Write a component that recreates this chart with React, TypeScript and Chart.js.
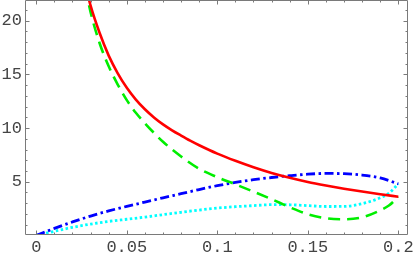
import React, { useEffect, useRef } from "react";
import { Chart, registerables } from "chart.js";

Chart.register(...registerables);

// ---- data ----
const redX = [0.028, 0.03, 0.035, 0.04, 0.045, 0.05, 0.055, 0.06, 0.065, 0.07, 0.075, 0.08, 0.085, 0.09, 0.1, 0.11, 0.12, 0.13, 0.14, 0.15, 0.16, 0.17, 0.18, 0.19, 0.2];
const redY = [22.7, 21.4, 18.85, 16.75, 15.1, 13.75, 12.65, 11.75, 10.99, 10.34, 9.79, 9.3, 8.83, 8.4, 7.62, 6.95, 6.35, 5.82, 5.37, 4.98, 4.65, 4.35, 4.08, 3.83, 3.6];

const greenX = [0.027, 0.03, 0.035, 0.04, 0.045, 0.05, 0.055, 0.06, 0.065, 0.07, 0.08, 0.09, 0.1, 0.11, 0.12, 0.13, 0.14, 0.15, 0.16, 0.17, 0.18, 0.19, 0.195, 0.2];
const greenY = [23.2, 20.8, 17.9, 15.75, 14.05, 12.6, 11.42, 10.45, 9.55, 8.72, 7.35, 6.2, 5.42, 4.75, 4.07, 3.37, 2.62, 1.97, 1.6, 1.5, 1.68, 2.33, 2.8, 3.6];

const blueX = [0, 0.01, 0.02, 0.03, 0.04, 0.05, 0.06, 0.07, 0.08, 0.09, 0.1, 0.11, 0.12, 0.13, 0.14, 0.15, 0.16, 0.17, 0.18, 0.19, 0.2];
const blueY = [0, 0.65, 1.25, 1.8, 2.28, 2.7, 3.1, 3.5, 3.88, 4.27, 4.63, 4.93, 5.19, 5.39, 5.56, 5.7, 5.77, 5.75, 5.62, 5.35, 4.8];

const cyanX = [0, 0.01, 0.02, 0.03, 0.04, 0.05, 0.06, 0.07, 0.08, 0.09, 0.1, 0.11, 0.12, 0.13, 0.14, 0.15, 0.16, 0.17, 0.18, 0.19, 0.195, 0.2];
const cyanY = [0, 0.38, 0.75, 1.05, 1.3, 1.5, 1.7, 1.93, 2.15, 2.36, 2.54, 2.67, 2.77, 2.86, 2.85, 2.77, 2.69, 2.7, 2.95, 3.5, 3.95, 4.8];

const xTickValues = [0, 0.05, 0.1, 0.15, 0.2];
const xTickLabels = ["0", "0.05", "0.1", "0.15", "0.2"];
const yTickValues = [5, 10, 15, 20];
const yTickLabels = ["5", "10", "15", "20"];
const xMinorStep = 0.01;
const yMinorStep = 1;

const toPoints = (xs: number[], ys: number[]) => xs.map((x, i) => ({ x, y: ys[i] }));

const framePlugin = {
  id: "frame",
  afterDatasetsDraw(chart: any) {
    const { ctx, chartArea, scales } = chart;
    const xs = scales.x;
    const ys = scales.y;
    const L = Math.round(chartArea.left) + 0.5;
    const R = Math.round(chartArea.right) - 0.5;
    const T = Math.round(chartArea.top) + 0.5;
    const B = Math.round(chartArea.bottom) + 0.5;
    ctx.save();
    ctx.strokeStyle = "#7a7a7a";
    ctx.lineWidth = 1;
    ctx.beginPath();
    ctx.moveTo(L, T);
    ctx.lineTo(R, T);
    ctx.lineTo(R, B);
    ctx.lineTo(L, B);
    ctx.closePath();
    ctx.stroke();
    ctx.beginPath();
    for (let i = 0; i <= 20; i++) {
      const v = i * xMinorStep;
      const major = xTickValues.some((t) => Math.abs(t - v) < 1e-9);
      const len = major ? 4 : 2;
      const p = Math.round(xs.getPixelForValue(v)) + 0.5;
      ctx.moveTo(p, B);
      ctx.lineTo(p, B - len);
      ctx.moveTo(p, T);
      ctx.lineTo(p, T + len);
    }
    for (let i = 1; i <= 21; i++) {
      const v = i * yMinorStep;
      const major = yTickValues.some((t) => Math.abs(t - v) < 1e-9);
      const len = major ? 4 : 2;
      const p = Math.round(ys.getPixelForValue(v)) + 0.5;
      ctx.moveTo(L, p);
      ctx.lineTo(L + len, p);
      ctx.moveTo(R, p);
      ctx.lineTo(R - len, p);
    }
    ctx.stroke();
    ctx.restore();
  },
};

export default function App() {
  const ref = useRef<HTMLCanvasElement | null>(null);

  useEffect(() => {
    if (!ref.current) return;
    const font = { family: "'Liberation Mono', 'DejaVu Sans Mono', monospace", size: 17 };
    const chart = new Chart(ref.current, {
      type: "line",
      data: {
        datasets: [
          {
            label: "red",
            data: toPoints(redX, redY),
            borderColor: "#ff0000",
            borderWidth: 2.6,
            pointRadius: 0,
            cubicInterpolationMode: "monotone",
            fill: false,
          },
          {
            label: "green",
            data: toPoints(greenX, greenY),
            borderColor: "#00ee00",
            borderWidth: 2.6,
            borderDash: [12, 7],
            pointRadius: 0,
            cubicInterpolationMode: "monotone",
            fill: false,
          },
          {
            label: "blue",
            data: toPoints(blueX, blueY),
            borderColor: "#0000ff",
            borderWidth: 2.8,
            borderDash: [9, 3.5, 2.5, 3.5],
            pointRadius: 0,
            cubicInterpolationMode: "monotone",
            fill: false,
          },
          {
            label: "cyan",
            data: toPoints(cyanX, cyanY),
            borderColor: "#00ffff",
            borderWidth: 2.8,
            borderDash: [2.5, 2.5],
            pointRadius: 0,
            cubicInterpolationMode: "monotone",
            fill: false,
          },
        ],
      },
      options: {
        responsive: false,
        animation: false,
        devicePixelRatio: 1,
        layout: { padding: { top: 0, right: 7, bottom: 0, left: 0 } },
        plugins: { legend: { display: false }, tooltip: { enabled: false } },
        scales: {
          x: {
            type: "linear",
            min: -0.00624,
            max: 0.20536,
            grid: { display: false, drawTicks: false },
            border: { display: false },
            afterBuildTicks: (s: any) => {
              s.ticks = xTickValues.map((v) => ({ value: v }));
            },
            afterFit: (s: any) => {
              s.height = 22;
              s.paddingLeft = 0;
              s.paddingRight = 0;
              s.paddingTop = 0;
              s.paddingBottom = 0;
            },
            ticks: {
              autoSkip: false,
              maxRotation: 0,
              padding: 3,
              color: "#444",
              font,
              callback: (_v: any, i: number) => xTickLabels[i],
            },
          },
          y: {
            type: "linear",
            min: 0.127,
            max: 21.93,
            grid: { display: false, drawTicks: false },
            border: { display: false },
            afterBuildTicks: (s: any) => {
              s.ticks = yTickValues.map((v) => ({ value: v }));
            },
            afterFit: (s: any) => {
              s.width = 25;
              s.paddingLeft = 0;
              s.paddingRight = 0;
              s.paddingTop = 0;
              s.paddingBottom = 0;
            },
            ticks: {
              autoSkip: false,
              padding: 3,
              color: "#444",
              font,
              callback: (_v: any, i: number) => yTickLabels[i],
            },
          },
        },
      },
      plugins: [framePlugin],
    } as any);
    return () => chart.destroy();
  }, []);

  return (
    <div style={{ position: "absolute", left: 0, top: 0, width: 415, height: 256, background: "#fff" }}>
      <canvas ref={ref} width={415} height={256} style={{ width: 415, height: 256, display: "block" }} />
    </div>
  );
}
